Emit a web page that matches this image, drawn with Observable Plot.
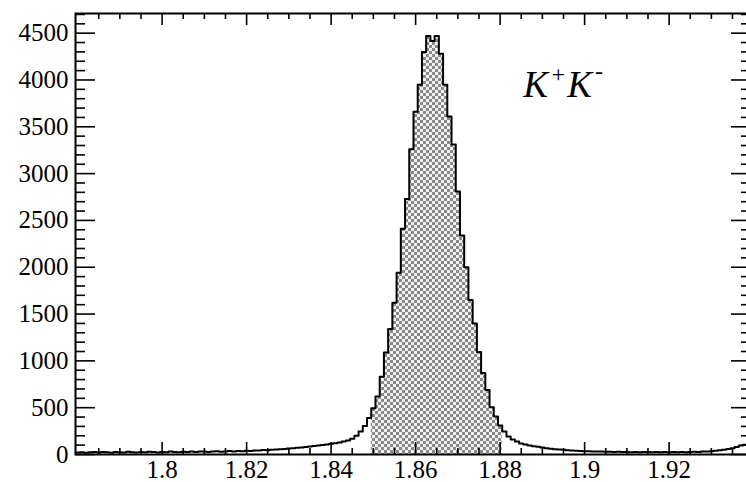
<!DOCTYPE html>
<html>
<head>
<meta charset="utf-8">
<script src="https://cdn.jsdelivr.net/npm/d3@7"></script>
<script src="https://cdn.jsdelivr.net/npm/@observablehq/plot@0.6"></script>
</head>
<body style="margin:0">
<div id="chart"></div>
<script>
// Invariant-mass histogram of K+K- candidates (GeV), 1 MeV bins.
const binLow = 1.7795;
const binWidth = 0.001;
const counts = [
  22, 25, 18, 24, 28, 21, 26, 23, 19, 27,
  24, 22, 29, 25, 21, 27, 24, 30, 26, 22,
  28, 25, 31, 27, 24, 29, 26, 32, 28, 31,
  33, 27, 31, 35, 29, 33, 37, 32, 38, 36,
  40, 38, 43, 42, 47, 45, 50, 53, 56, 60,
  64, 68, 72, 76, 80, 85, 90, 96, 102, 108,
  114, 120, 128, 138, 150, 168, 200, 245, 305, 390,
  495, 620, 830, 1090, 1340, 1620, 1940, 2410, 2730, 3260,
  3660, 3950, 4300, 4470, 4415, 4470, 4280, 3950, 3610, 3310,
  2810, 2340, 2000, 1650, 1400, 1095, 870, 690, 505, 405,
  310, 245, 192, 160, 138, 118, 106, 95, 88, 82,
  75, 68, 62, 57, 53, 50, 46, 43, 41, 38,
  36, 35, 33, 31, 32, 29, 30, 27, 29, 26,
  28, 25, 27, 24, 26, 28, 25, 27, 24, 26,
  23, 27, 25, 28, 24, 26, 29, 27, 31, 33,
  36, 40, 45, 52, 58, 66, 80, 95, 105
];
// Signal window (shaded)
const signalWindow = [1.8495, 1.8805];
// Axis tick labels
const xTickLabels = [1.8, 1.82, 1.84, 1.86, 1.88, 1.9, 1.92];
const yTickLabels = [0, 500, 1000, 1500, 2000, 2500, 3000, 3500, 4000, 4500];
const channelLabel = "K+K-";

const bins = counts.map((c, i) => ({
  x0: binLow + i * binWidth,
  x1: binLow + (i + 1) * binWidth,
  count: c
}));
const stepPoints = bs => {
  const pts = bs.map(b => ({x: b.x0, y: b.count}));
  pts.push({x: bs[bs.length - 1].x1, y: bs[bs.length - 1].count});
  return pts;
};
const signalBins = bins.filter(b => b.x0 >= signalWindow[0] - 1e-9 && b.x1 <= signalWindow[1] + 1e-9);
const outline = stepPoints(bins);
const signalOutline = stepPoints(signalBins);

// ROOT-style inward ticks: majors every 0.02 / 500, minors every 0.005 / 100
const xAll = d3.range(357, 388).map(k => k / 200);
const xMajor = xAll.filter(v => Math.round(v * 200) % 4 === 0);
const xMinor = xAll.filter(v => Math.round(v * 200) % 4 !== 0);
const yAll = d3.range(0, 4701, 100);
const yMajor = yAll.filter(v => v % 500 === 0);
const yMinor = yAll.filter(v => v % 500 !== 0);

const width = 746, height = 482;
const mL = 75, mR = -5, mT = 13, mB = 28;
const W = width - mL - mR, H = height - mT - mB;

const root = Plot.plot({
  width, height,
  marginLeft: mL, marginRight: mR, marginTop: mT, marginBottom: mB,
  style: {fontSize: "25px", fontFamily: "Liberation Serif"},
  x: {domain: [binLow, 1.9395], ticks: xTickLabels, tickSize: 0, tickPadding: 6, tickFormat: d => String(+d.toFixed(2)), label: null},
  y: {domain: [0, 4710], ticks: yTickLabels, tickSize: 0, tickPadding: 7, tickFormat: d => String(d), label: null},
  marks: [
    Plot.areaY(signalOutline, {x: "x", y: "y", curve: "step-after", fill: "url(#checker2)"}),
    // bottom and top ticks
    Plot.tickX(xMajor, {insetTop: H - 12, stroke: "black", strokeWidth: 1.6}),
    Plot.tickX(xMinor, {insetTop: H - 6, stroke: "black", strokeWidth: 1.6}),
    Plot.tickX(xMajor, {insetBottom: H - 12, stroke: "black", strokeWidth: 1.6}),
    Plot.tickX(xMinor, {insetBottom: H - 6, stroke: "black", strokeWidth: 1.6}),
    // left and right ticks
    Plot.tickY(yMajor, {insetRight: W - 20, stroke: "black", strokeWidth: 1.6}),
    Plot.tickY(yMinor, {insetRight: W - 10, stroke: "black", strokeWidth: 1.6}),
    Plot.tickY(yMajor, {insetLeft: W - 20, stroke: "black", strokeWidth: 1.6}),
    Plot.tickY(yMinor, {insetLeft: W - 10, stroke: "black", strokeWidth: 1.6}),
    Plot.line(outline, {x: "x", y: "y", curve: "step-after", stroke: "black", strokeWidth: 2}),
    Plot.frame({stroke: "black", strokeWidth: 2}),
    Plot.text([channelLabel], {x: 1.8855, y: 3813, text: d => d, textAnchor: "start", lineAnchor: "bottom",
      fontSize: 37, fontStyle: "italic", fill: "black"})
  ]
});
const svg = root.tagName.toLowerCase() === "svg" ? root : root.querySelector("svg");
const ns = "http://www.w3.org/2000/svg";

// checkerboard hatch used by the signal window
const defs = document.createElementNS(ns, "defs");
defs.innerHTML = '<pattern id="checker2" patternUnits="userSpaceOnUse" width="6" height="6">' +
  '<rect width="6" height="6" fill="#f2f2f2"/><rect width="3" height="3" fill="#8a8a8a"/>' +
  '<rect x="3" y="3" width="3" height="3" fill="#8a8a8a"/></pattern>';
svg.insertBefore(defs, svg.firstChild);

// superscript charges in the channel label
svg.querySelectorAll("text").forEach(t => {
  if (t.textContent !== channelLabel) return;
  const txt = t.textContent;
  t.textContent = "";
  // [glyph, dx, dy, font size]
  const parts = [[txt[0], 0, 0, 37], [txt[1], 2, -15, 24], [txt[2], 1, 15, 37], [txt[3], 3, -18, 24]];
  parts.forEach(([s, dx, dy, fs]) => {
    const sp = document.createElementNS(ns, "tspan");
    sp.setAttribute("dx", dx);
    sp.setAttribute("dy", dy);
    sp.setAttribute("font-size", fs);
    sp.textContent = s;
    t.appendChild(sp);
  });
});

document.getElementById("chart").appendChild(root);
</script>
</body>
</html>
